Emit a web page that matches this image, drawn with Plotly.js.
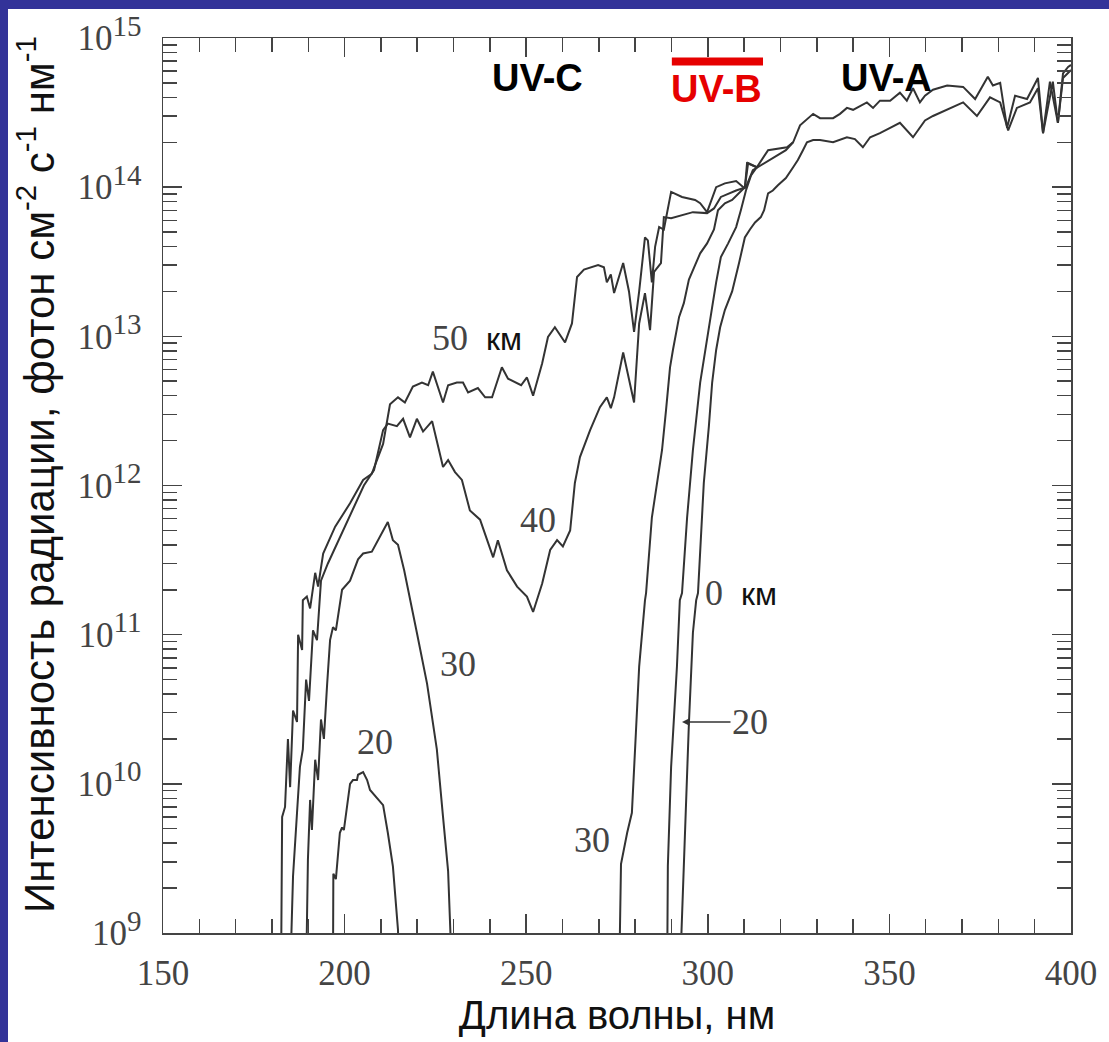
<!DOCTYPE html>
<html>
<head>
<meta charset="utf-8">
<script src="https://cdn.plot.ly/plotly-3.0.1.min.js"></script>
<style>
  html, body { margin:0; padding:0; background:#333399; width:1109px; height:1042px; overflow:hidden; }
  #chart { position:absolute; left:8px; top:9px; width:1101px; height:1033px; }
</style>
</head>
<body>
<div id="chart"></div>
<script>
// Wavelength (nm) and spectral photon intensity (photon cm^-2 s^-1 nm^-1) at altitude
const wl50 = [182.5,182.8,183.6,184.4,185.0,185.8,186.9,187.2,188.3,188.5,189.6,190.5,191.9,192.7,194.1,197.4,201.5,205.1,207.5,210.6,212.5,214.7,216.6,218.8,221.3,223.0,224.3,227.1,228.5,230.9,232.6,234.0,236.7,238.7,240.6,243.3,245.0,246.9,248.6,250.2,251.9,254.4,256.0,257.9,260.7,262.6,264.0,265.9,269.8,271.4,272.2,273.3,274.2,276.7,278.3,279.7,281.1,282.7,283.5,284.6,285.5,286.6,287.9,289.9,292.9,296.5,297.9,299.8,302.3,304.7,307.8,310.2,310.8,313.5,316.6,321.8,323.5,325.4,326.8,329.0,330.9,334.5,336.4,338.3,340.0,343.8,345.5,347.4,350.2,352.9,354.8,356.5,358.4,359.8,362.0,365.9,370.3,373.6,377.1,378.5,380.5,382.4,384.6,387.9,390.9,392.3,395.0,396.4,397.8,399.2,400];
const int50 = [5e8,6.0e9,7.0e9,2.0e10,9.5e9,3.1e10,2.6e10,1.0e11,7.9e10,1.7e11,1.8e11,1.5e11,2.6e11,2.1e11,3.5e11,5.3e11,7.6e11,1.09e12,1.2e12,1.9e12,3.5e12,3.9e12,3.6e12,4.6e12,4.9e12,4.7e12,5.8e12,3.6e12,4.7e12,4.9e12,4.9e12,4.2e12,4.5e12,3.9e12,3.9e12,6.2e12,5.2e12,4.9e12,4.7e12,5.3e12,4.0e12,6.6e12,9.9e12,1.15e13,9.1e12,1.22e13,2.5e13,2.8e13,3.0e13,2.9e13,2.3e13,2.6e13,1.95e13,3.1e13,2.0e13,1.07e13,2.0e13,4.6e13,4.4e13,2.3e13,4.0e13,5.4e13,5.2e13,9.3e13,8.6e13,8.2e13,7.8e13,6.8e13,1.0e14,1.06e14,1.1e14,9.8e13,1.45e14,1.36e14,1.77e14,1.85e14,2.0e14,2.6e14,2.8e14,3.1e14,2.9e14,2.9e14,3.1e14,3.4e14,3.3e14,3.7e14,3.4e14,3.8e14,3.8e14,4.3e14,3.8e14,4.6e14,3.7e14,4.1e14,4.5e14,4.8e14,4.7e14,3.9e14,5.5e14,4.8e14,5.0e14,2.5e14,4.1e14,3.9e14,5.4e14,2.3e14,5.1e14,2.7e14,5.8e14,6.4e14,6.6e14];

const wl40 = [185.0,185.8,186.9,187.7,188.5,189.4,190.2,191.3,192.4,193.5,195.4,198.7,202.0,205.3,208.1,210.6,211.9,214.4,216.1,218.0,219.9,221.6,224.1,227.1,228.5,230.4,232.3,234.5,237.3,239.2,240.9,242.2,244.7,247.5,250.2,251.9,254.4,256.6,258.5,260.1,262.1,263.4,264.8,267.6,270.3,272.2,273.3,274.2,276.7,279.7,281.1,282.7,284.1,285.2,287.1,287.9,289.9,295.9,299.8,301.7,303.6,307.8,310.5,312.4,315.5,321.5,323.5];
const int40 = [5e8,2.4e9,6.4e9,1.3e10,1.7e10,5.0e10,3.6e10,1.07e11,9.2e10,2.3e11,3.0e11,4.5e11,6.6e11,1.0e12,1.27e12,2.35e12,2.6e12,2.5e12,2.8e12,2.1e12,2.8e12,2.3e12,2.7e12,1.33e12,1.48e12,1.23e12,1.09e12,6.8e11,5.9e11,4.3e11,3.3e11,4.3e11,2.7e11,2.1e11,1.8e11,1.42e11,2.2e11,3.7e11,4.3e11,3.9e11,5.0e11,1.04e12,1.55e12,2.35e12,3.35e12,3.9e12,3.3e12,3.9e12,7.8e12,3.6e12,1.22e13,1.95e13,1.1e13,2.7e13,3.1e13,6.3e13,6.2e13,6.8e13,6.7e13,7.2e13,8.6e13,9.5e13,1.0e14,1.3e14,1.45e14,1.77e14,2.0e14];

const wl30a = [189.4,189.9,190.5,191.0,191.9,192.7,193.5,194.3,195.2,196.0,196.8,197.6,199.3,201.5,203.7,205.1,207.5,209.7,211.9,213.3,214.7,216.4,218.0,219.9,222.7,225.4,227.1,228.5,229.6];
const int30a = [5e8,3.1e9,7.8e9,4.9e9,1.45e10,1.06e10,2.7e10,2.0e10,4.7e10,9.2e10,1.12e11,1.07e11,2.0e11,2.3e11,3.2e11,3.5e11,3.6e11,4.5e11,5.7e11,4.3e11,4.0e11,2.7e11,1.7e11,1.03e11,4.7e10,1.7e10,6.0e9,2.6e9,5e8];
const wl30b = [275.6,276.1,277.8,279.1,280.2,281.1,282.7,283.0,284.6,286.6,287.4,288.5,289.6,290.4,292.1,293.4,294.8,296.5,297.9,299.8,301.7,302.8,304.7,306.7,308.6,310.2,311.1,313.5];
const int30b = [5e8,2.9e9,4.7e9,6.4e9,2.2e10,6.1e10,1.7e11,1.9e11,6.1e11,1.27e12,1.73e12,3.2e12,6.2e12,8.1e12,1.35e13,1.67e13,2.4e13,3.0e13,3.6e13,4.2e13,5.2e13,7.0e13,7.8e13,8.2e13,9.1e13,1.0e14,1.45e14,1.36e14];

const wl20a = [196.8,196.9,197.6,198.7,199.3,199.8,201.5,202.3,203.4,203.7,205.1,206.2,207.0,208.9,210.6,211.9,213.3,214.7,215.0];
const int20a = [5e8,2.5e9,2.3e9,4.7e9,5.1e9,4.9e9,1.0e10,1.06e10,1.06e10,1.15e10,1.2e10,1.06e10,9.1e9,8.0e9,7.2e9,4.7e9,2.8e9,1.05e9,5e8];
const wl20b = [288.8,289.0,289.9,291.5,292.3,292.9,294.3,295.9,297.9,299.8,301.2,302.3,303.6,305.6,307.8,309.1,310.5,311.9,313.5];
const int20b = [5e8,2.8e9,1.3e10,6.1e10,1.7e11,1.9e11,6.1e11,1.73e12,4.9e12,9.9e12,1.57e13,2.3e13,3.4e13,4.2e13,5.4e13,7.0e13,9.5e13,1.2e14,1.36e14];

const wl0 = [292.3,294.0,294.8,295.9,296.8,297.3,298.9,300.3,301.2,302.3,303.4,304.7,306.7,308.6,310.2,311.6,313.0,314.6,315.5,316.6,317.9,319.3,321.5,323.5,324.8,326.2,327.3,329.0,330.9,334.5,336.4,338.3,340.5,342.7,344.7,347.4,350.2,352.9,356.5,358.4,359.8,362.0,365.9,366.7,370.3,374.1,377.7,380.5,382.7,385.1,388.7,390.9,392.3,394.2,396.4,397.8,400];
const int0 = [5e8,7.8e9,2.55e10,1.03e11,1.7e11,1.9e11,1.04e12,2.5e12,4.9e12,8.1e12,1.15e13,1.5e13,2.0e13,3.1e13,4.6e13,5.2e13,5.8e13,6.3e13,7.0e13,9.1e13,9.5e13,1.03e14,1.15e14,1.36e14,1.52e14,1.77e14,2.0e14,2.07e14,2.07e14,2.0e14,2.07e14,2.16e14,2.1e14,1.85e14,2.16e14,2.3e14,2.5e14,2.7e14,2.16e14,2.5e14,2.8e14,3.0e14,3.3e14,3.4e14,3.7e14,3.0e14,4.0e14,3.7e14,2.4e14,3.4e14,3.7e14,4.6e14,2.3e14,5.1e14,2.7e14,5.4e14,6.1e14];

const xTickVals = [150,200,250,300,350,400];
const yTickVals = [1e9,1e10,1e11,1e12,1e13,1e14,1e15];
const yTickExp = ['9','10','11','12','13','14','15'];
const uvbBand = [290.1, 315.2];
const yTitle = 'Интенсивность радиации, фотон см<sup>-2</sup> с<sup>-1</sup> нм<sup>-1</sup>';
const xTitle = 'Длина волны, нм';

const yTickText = yTickExp.map(e => '10<sup><span style="font-size:29px">' + e + '</span></sup>');
// minor log ticks 2..9 within each decade (axis decoration)
const yMinor = [];
for (let d = 0; d < yTickVals.length - 1; d++) for (let m = 2; m <= 9; m++) yMinor.push(m * yTickVals[d]);

const lineStyle = {color:'#333333', width:2};
const mk = (x, y) => ({x:x, y:y, type:'scatter', mode:'lines', line:lineStyle, hoverinfo:'skip', showlegend:false});
const traces = [mk(wl50,int50), mk(wl40,int40), mk(wl30a,int30a), mk(wl30b,int30b), mk(wl20a,int20a), mk(wl20b,int20b), mk(wl0,int0)];

const serif = 'Liberation Serif, Times New Roman, serif';
const sans = 'Liberation Sans, Arial, sans-serif';
const numFont = {family:serif, size:36, color:'#444444'};
const km = '<span style="font-family:Liberation Sans, Arial, sans-serif;font-size:32px;fill:#111111">км</span>';

const ann = (x, y, text, extra) => Object.assign({x:x, y:y, xref:'x', yref:'paper', text:text, showarrow:false, font:numFont, xanchor:'center', yanchor:'middle'}, extra||{});

const layout = {
  width:1101, height:1033,
  paper_bgcolor:'#ffffff', plot_bgcolor:'#ffffff',
  margin:{l:155, r:38, t:29, b:109},
  showlegend:false,
  xaxis:{
    range:[150,400], tickvals:xTickVals, ticks:'inside', ticklen:19, tickwidth:1.5, tickcolor:'#444',
    showline:true, linecolor:'#444', linewidth:1.5, mirror:'allticks', showgrid:false, zeroline:false,
    minor:{dtick:10, ticks:'inside', ticklen:14, tickwidth:1.5, tickcolor:'#444', showgrid:false},
    tickfont:{family:serif, size:35, color:'#444444'}, ticklabelstandoff:8,
    title:{text:xTitle, font:{family:sans, size:40, color:'#111111'}, standoff:8}
  },
  yaxis:{
    type:'log', range:[9, 15], tickmode:'array', tickvals:yTickVals, ticktext:yTickText,
    ticks:'inside', ticklen:19, tickwidth:1.5, tickcolor:'#444', ticklabeloverflow:'allow',
    showline:true, linecolor:'#444', linewidth:1.5, mirror:'allticks', showgrid:false, zeroline:false,
    minor:{tickmode:'array', tickvals:yMinor, ticks:'inside', ticklen:14, tickwidth:1.5, tickcolor:'#444', showgrid:false},
    tickfont:{family:serif, size:35, color:'#444444'}, ticklabelstandoff:13
  },
  annotations:[
    {x:-0.1399, y:0.5128, xref:'paper', yref:'paper', text:yTitle, textangle:-90, showarrow:false,
     xanchor:'center', yanchor:'middle', font:{family:sans, size:42, color:'#111111'}},
    ann(236.5, 0.6648, '50  ' + km),
    ann(253.2, 0.4615, '40'),
    ann(231.2, 0.3006, '30'),
    ann(208.4, 0.2134, '20'),
    ann(268.1, 0.1039, '30'),
    ann(309.1, 0.3799, '0  ' + km),
    {x:292.9, y:0.2358, xref:'x', yref:'paper', text:'20', showarrow:true, ax:68, ay:0, axref:'pixel', ayref:'pixel',
     arrowhead:2, arrowsize:1, arrowwidth:1.5, arrowcolor:'#333', standoff:0, font:numFont},
    ann(253.2, 0.9553, '<b>UV-C</b>', {font:{family:sans, size:38, color:'#000000'}}),
    ann(302.5, 0.9430, '<b>UV-B</b>', {font:{family:sans, size:38, color:'#e60000'}}),
    ann(349.1, 0.9553, '<b>UV-A</b>', {font:{family:sans, size:38, color:'#000000'}})
  ],
  shapes:[
    {type:'line', xref:'x', yref:'paper', x0:uvbBand[0], x1:uvbBand[1], y0:0.9737, y1:0.9737, line:{color:'#e60000', width:8}}
  ]
};

Plotly.newPlot('chart', traces, layout, {staticPlot:true, displayModeBar:false});
</script>
</body>
</html>
